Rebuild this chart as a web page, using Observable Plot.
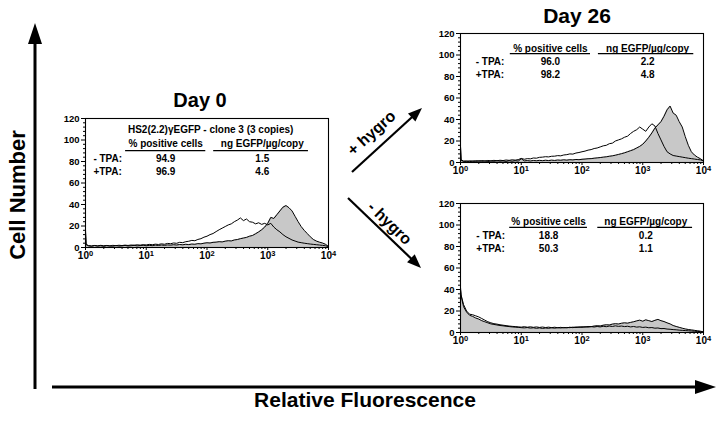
<!DOCTYPE html>
<html><head><meta charset="utf-8">
<script src="https://cdn.jsdelivr.net/npm/d3@7"></script>
<script src="https://cdn.jsdelivr.net/npm/@observablehq/plot@0.6"></script>
<style>
html,body{margin:0;padding:0;background:#fff;}
#fig{position:relative;width:718px;height:423px;overflow:hidden;font-family:"Liberation Sans",Arial,Helvetica,sans-serif;color:#000;}
</style></head><body><div id="fig"></div>
<script>
// ---------- data ----------
// channel positions (log10 of relative fluorescence)
const exponents = [
  0, 0.01, 0.05, 0.1, 0.15, 0.2, 0.25, 0.3, 0.35, 0.4, 0.45, 0.5, 0.55, 0.6, 0.65, 0.7, 0.75, 0.8, 0.85, 0.9, 0.95,
  1.0, 1.05, 1.1, 1.15, 1.2, 1.25, 1.3, 1.35, 1.4, 1.45, 1.5, 1.55, 1.6, 1.65, 1.7, 1.75, 1.8, 1.85, 1.9, 1.95,
  2.0, 2.05, 2.1, 2.15, 2.2, 2.25, 2.3, 2.35, 2.4, 2.45, 2.5, 2.55, 2.6, 2.65, 2.7, 2.75, 2.8, 2.85, 2.9, 2.95,
  3.0, 3.05, 3.1, 3.15, 3.2, 3.25, 3.3, 3.35, 3.4, 3.45, 3.5, 3.55, 3.6, 3.65, 3.7, 3.75, 3.8, 3.85, 3.9, 3.95,
  4.0
];
// Day 0 (+TPA filled, -TPA open)
const day0PlusTPA = [
  17, 3, 1.5, 1.2, 1.8, 1.3, 1.6, 1.1, 1.7, 1.4, 1.2, 1.8, 1.3, 1.5, 1.9, 1.4, 1.6, 2.0, 1.5, 1.8, 2.1,
  1.6, 2.0, 1.7, 2.2, 1.9, 2.3, 2.0, 2.4, 2.2, 2.6, 2.3, 2.8, 2.5, 3.0, 2.7, 3.2, 3.0, 3.6, 3.4, 4.0,
  4.4, 4.2, 4.8, 5.0, 5.4, 5.2, 5.9, 6.3, 6.1, 7.0, 7.4, 8.2, 8.8, 9.4, 10.5, 11.2, 12.8, 14.5, 16.5, 19.0,
  22.5, 28.0, 27.0, 30.5, 34.0, 37.5, 39.0, 37.0, 34.0, 29.0, 24.0, 19.5, 16.0, 13.0, 10.0, 7.5, 6.0, 5.0, 4.2, 3.0,
  1.0
];
const day0MinusTPA = [
  14, 2.5, 1.8, 1.4, 1.9, 1.5, 2.0, 1.6, 1.9, 1.5, 2.0, 1.7, 2.1, 1.8, 2.2, 1.9, 2.3, 2.1, 2.5, 2.2, 2.6,
  2.4, 2.9, 2.6, 3.1, 2.8, 3.4, 3.0, 3.8, 3.5, 4.2, 3.9, 4.8, 4.5, 5.4, 5.8, 6.6, 6.3, 7.5, 8.2, 9.6,
  10.5, 12.0, 13.0, 14.8, 16.5, 18.0, 19.5, 21.0, 22.0, 24.0, 25.5, 27.5, 25.0, 26.5, 24.0, 23.5, 22.0, 23.0, 21.5, 22.5,
  21.0, 22.5, 19.0, 16.5, 14.5, 12.0, 10.0, 8.5, 7.0, 6.0, 5.0, 4.5, 4.0, 3.6, 3.2, 2.9, 2.6, 2.3, 2.0, 1.6,
  0.8
];
// Day 26, + hygro
const hygroPlusPlusTPA = [
  15, 2, 1.0, 1.5, 0.8, 1.4, 1.0, 1.6, 1.1, 1.5, 0.9, 1.4, 1.1, 1.6, 1.2, 1.5, 1.0, 1.6, 1.2, 1.7, 1.3,
  3.5, 1.5, 1.8, 1.4, 1.9, 1.6, 2.0, 1.7, 2.1, 1.8, 2.2, 1.9, 2.3, 2.1, 2.5, 2.2, 2.6, 2.4, 2.8, 2.6,
  3.0, 3.2, 3.5, 3.6, 4.0, 4.3, 4.6, 5.0, 5.3, 5.8, 6.2, 6.8, 7.5, 8.2, 9.0, 10.0, 11.0, 12.0, 13.5, 15.0,
  17.0, 20.0, 23.5, 27.5, 32.0, 35.0, 38.0, 43.0, 49.0, 52.5, 46.0, 44.0, 38.0, 33.0, 24.0, 16.0, 10.0, 7.0, 5.0, 3.5,
  1.5
];
const hygroPlusMinusTPA = [
  15, 2.5, 1.4, 0.9, 1.6, 1.1, 1.7, 1.2, 1.8, 1.3, 1.9, 1.5, 2.0, 1.6, 2.1, 1.8, 2.3, 2.0, 2.5, 2.2, 2.7,
  3.8, 3.0, 3.6, 3.4, 4.2, 4.0, 4.8, 5.0, 5.4, 5.2, 5.8, 5.9, 6.4, 6.2, 7.0, 7.3, 8.0, 7.8, 8.8, 9.3,
  10.0, 10.6, 11.5, 12.0, 13.0, 13.5, 14.5, 15.5, 16.0, 17.5, 18.0, 20.0, 21.0, 22.0, 23.5, 24.5, 27.0, 29.0, 30.5, 33.0,
  31.0, 29.0, 33.0, 36.0, 34.0, 27.0, 21.0, 15.0, 10.0, 8.0, 6.5, 6.0, 5.5, 5.0, 4.5, 4.0, 3.6, 3.2, 2.8, 2.4,
  1.5
];
// Day 26, - hygro
const hygroMinusPlusTPA = [
  40, 34, 24, 19, 16, 15, 13.5, 12.5, 11, 10, 9, 8, 7.5, 7, 6.5, 6.2, 5.8, 5.5, 5.2, 5.0, 4.8,
  4.5, 4.3, 4.6, 4.1, 4.4, 3.9, 4.3, 3.8, 4.2, 3.9, 4.4, 4.0, 4.5, 4.2, 4.7, 4.3, 4.9, 4.5, 5.1, 4.8,
  5.3, 5.0, 5.6, 5.4, 6.0, 6.3, 6.1, 6.8, 7.2, 7.0, 7.8, 8.2, 7.9, 8.6, 9.0, 8.7, 9.4, 10.0, 10.8, 11.5,
  10.5, 11.8, 11.0, 10.2, 11.3, 12.2, 11.0, 10.2, 9.0, 8.0, 6.5, 5.6, 4.8, 4.0, 3.3, 2.8, 2.4, 2.0, 1.6, 1.2,
  0.6
];
const hygroMinusMinusTPA = [
  42, 35, 26, 20, 17, 16.5, 15.5, 14.5, 13, 11.5, 10, 9, 8.2, 7.8, 7.2, 6.8, 6.4, 6.0, 5.7, 5.5, 5.2,
  5.0, 5.4, 4.9, 5.3, 4.8, 5.2, 4.7, 5.1, 4.6, 5.0, 4.5, 4.9, 4.4, 4.8, 4.3, 4.7, 4.5, 5.0, 4.6, 5.2,
  4.8, 5.4, 5.0, 5.5, 5.1, 5.6, 5.2, 5.8, 5.4, 6.0, 5.6, 6.2, 5.7, 6.0, 5.5, 5.8, 5.2, 5.6, 5.0, 5.3,
  4.7, 5.0, 4.4, 4.6, 4.0, 4.2, 3.6, 3.7, 3.2, 3.0, 2.7, 2.5, 2.2, 2.0, 1.8, 1.6, 1.4, 1.2, 1.0, 0.8,
  0.4
];
// table texts
const cloneLabel = "HS2(2.2)γEGFP - clone 3 (3 copies)";
const columnHeaders = ["% positive cells", "ng EGFP/µg/copy"];
const rowLabels = ["- TPA:", "+TPA:"];
const day0Positive = [94.9, 96.9];
const day0Egfp = [1.5, 4.6];
const hygroPlusPositive = [96.0, 98.2];
const hygroPlusEgfp = [2.2, 4.8];
const hygroMinusPositive = [18.8, 50.3];
const hygroMinusEgfp = [0.2, 1.1];
// axes
const xTicks = [1, 10, 100, 1000, 10000];
const xTickExponents = ["0", "1", "2", "3", "4"];
const yTicks = [0, 20, 40, 60, 80, 100, 120];
// titles
const panelTitles = ["Day 0", "Day 26"];
const treatmentLabels = ["+ hygro", "- hygro"];
const axisTitles = ["Cell Number", "Relative Fluorescence"];

// ---------- drawing ----------
const fig = document.getElementById("fig");
const FONT = "Liberation Sans, Arial, Helvetica, sans-serif";
const NS = "http://www.w3.org/2000/svg";
const xMinor = [];
for (let k = 0; k < 4; k++) for (let m = 2; m <= 9; m++) xMinor.push(m * 10 ** k);
const yMinor = [];
for (let v = 4; v < 120; v += 4) if (v % 20) yMinor.push(v);

function panel({filled, open, positive, egfp, title, L, left, top}) {
  const fillRows = exponents.map((e, i) => ({x: 10 ** e, y: filled[i]}));
  const openRows = exponents.map((e, i) => ({x: 10 ** e, y: open[i]}));
  const mid = [], start = [];
  if (title) mid.push({x: 10 ** L.titleX, y: L.titleY, t: title});
  columnHeaders.forEach((h, j) => mid.push({x: 10 ** L.colX[j], y: L.headerY, t: h}));
  rowLabels.forEach((r, i) => {
    start.push({x: 10 ** L.rowLabelX, y: L.rowY[i], t: r});
    mid.push({x: 10 ** L.colX[0], y: L.rowY[i], t: positive[i].toFixed(1)});
    mid.push({x: 10 ** L.colX[1], y: L.rowY[i], t: egfp[i].toFixed(1)});
  });
  const under = L.under.map(([a, b]) => ({y: L.underY, x1: 10 ** a, x2: 10 ** b}));
  const svg = Plot.plot({
    width: 283, height: 154,
    marginLeft: 30, marginRight: 10, marginTop: 5, marginBottom: 20,
    x: {type: "log", domain: [1, 10000], label: null},
    y: {domain: [0, 120], label: null},
    style: {fontFamily: FONT, fontSize: "10px", fontWeight: "bold", color: "#000", background: "transparent", overflow: "visible"},
    marks: [
      Plot.areaY(fillRows, {x: "x", y: "y", fill: "#c8c8c8"}),
      Plot.lineY(fillRows, {x: "x", y: "y", stroke: "#000", strokeWidth: 1}),
      Plot.lineY(openRows, {x: "x", y: "y", stroke: "#000", strokeWidth: 1}),
      Plot.frame({stroke: "#000", strokeWidth: 1.1}),
      Plot.axisY({ticks: yTicks, tickSize: 4, tickPadding: 2, label: null, fontSize: 9.5, fontWeight: "bold"}),
      Plot.axisY({ticks: yMinor, tickSize: 2, fill: "none", label: null}),
      Plot.axisX({ticks: xTicks, tickSize: 3, tickPadding: 1, label: null, fontSize: 10, fontWeight: "bold",
        tickFormat: d => "10^" + xTickExponents[xTicks.indexOf(d)]}),
      Plot.axisX({ticks: xMinor, tickSize: 2, fill: "none", label: null}),
      Plot.ruleY(under, {y: "y", x1: "x1", x2: "x2", stroke: "#000", strokeWidth: 1.2}),
      Plot.text(mid, {x: "x", y: "y", text: "t", textAnchor: "middle", fontSize: 10, fontWeight: "bold"}),
      Plot.text(start, {x: "x", y: "y", text: "t", textAnchor: "start", fontSize: 10, fontWeight: "bold"})
    ]
  });
  // render "10^k" tick labels with a real superscript
  svg.querySelectorAll("text").forEach(t => {
    const m = /^10\^(\d)$/.exec(t.textContent);
    if (!m) return;
    t.textContent = "";
    const a = document.createElementNS(NS, "tspan"); a.textContent = "10";
    const b = document.createElementNS(NS, "tspan"); b.textContent = m[1];
    b.setAttribute("dy", "-0.4em"); b.setAttribute("font-size", "7.5");
    t.append(a, b);
    t.setAttribute("font-size", "10");
  });
  svg.style.position = "absolute";
  svg.style.left = left + "px";
  svg.style.top = top + "px";
  fig.append(svg);
}

panel({filled: day0PlusTPA, open: day0MinusTPA, positive: day0Positive, egfp: day0Egfp, title: cloneLabel,
  L: {titleX: 2.06, titleY: 109.8, headerY: 96.7, underY: 90.2, rowY: [82.8, 70.7], colX: [1.32, 2.91], rowLabelX: 0.13,
      under: [[0.66, 1.98], [2.11, 3.67]]},
  left: 55, top: 113});
panel({filled: hygroPlusPlusTPA, open: hygroPlusMinusTPA, positive: hygroPlusPositive, egfp: hygroPlusEgfp,
  L: {headerY: 106, underY: 101.2, rowY: [93.3, 81.3], colX: [1.48, 3.08], rowLabelX: 0.25,
      under: [[0.82, 2.14], [2.27, 3.84]]},
  left: 430, top: 28});
panel({filled: hygroMinusPlusTPA, open: hygroMinusMinusTPA, positive: hygroMinusPositive, egfp: hygroMinusEgfp,
  L: {headerY: 102.6, underY: 97.8, rowY: [90.2, 77.9], colX: [1.45, 3.05], rowLabelX: 0.26,
      under: [[0.81, 2.09], [2.26, 3.82]]},
  left: 430, top: 198});

// overlay: big axes arrows, titles, treatment arrows
const ov = document.createElementNS(NS, "svg");
ov.setAttribute("width", 718); ov.setAttribute("height", 423);
ov.style.position = "absolute"; ov.style.left = "0"; ov.style.top = "0"; ov.style.pointerEvents = "none";
fig.append(ov);
function el(tag, attrs, text) {
  const e = document.createElementNS(NS, tag);
  for (const k in attrs) e.setAttribute(k, attrs[k]);
  if (text != null) e.textContent = text;
  ov.append(e); return e;
}
function arrow(x1, y1, x2, y2, w, headLen, headHalf) {
  const dx = x2 - x1, dy = y2 - y1, L = Math.hypot(dx, dy), ux = dx / L, uy = dy / L;
  const bx = x2 - ux * headLen, by = y2 - uy * headLen, nx = -uy, ny = ux;
  el("line", {x1, y1, x2: bx + ux, y2: by + uy, stroke: "#000", "stroke-width": w});
  el("polygon", {points: `${x2},${y2} ${bx + nx * headHalf},${by + ny * headHalf} ${bx - nx * headHalf},${by - ny * headHalf}`, fill: "#000"});
}
arrow(35, 389, 35, 23, 3, 21, 7);
arrow(52, 387, 716, 387, 3, 21, 7);
arrow(352, 172, 422, 108, 2.2, 14, 5.5);
arrow(348, 198, 421, 268, 2.2, 14, 5.5);

const tStyle = {"font-family": FONT, "font-weight": "bold", fill: "#000", "text-anchor": "middle"};
el("text", {...tStyle, x: 200, y: 107, "font-size": 20}, panelTitles[0]);
el("text", {...tStyle, x: 577, y: 23, "font-size": 21}, panelTitles[1]);
el("text", {...tStyle, x: 0, y: 0, "font-size": 16, transform: "translate(375,137) rotate(-42)"}, treatmentLabels[0]);
el("text", {...tStyle, x: 0, y: 0, "font-size": 16, transform: "translate(386,227) rotate(44)"}, treatmentLabels[1]);
el("text", {...tStyle, x: 0, y: 0, "font-size": 22, transform: "translate(25,195) rotate(-90)"}, axisTitles[0]);
el("text", {...tStyle, x: 365, y: 407, "font-size": 21}, axisTitles[1]);
</script>
</body></html>
